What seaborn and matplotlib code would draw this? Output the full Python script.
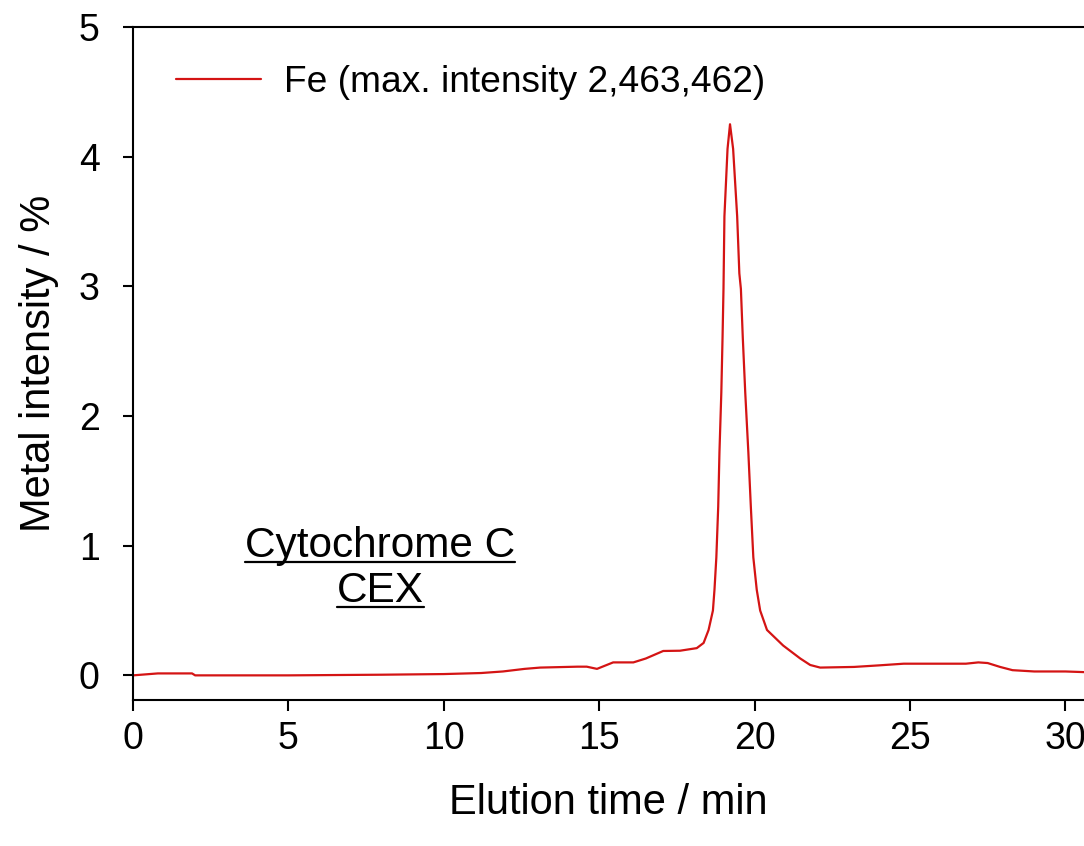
import numpy as np
import pandas as pd
import matplotlib
matplotlib.use("Agg")
import matplotlib.pyplot as plt
import seaborn as sns
from matplotlib.lines import Line2D

# ---- data ----
time_min = [0.0, 0.8, 1.9, 2.0, 5.0, 8.0, 10.0, 11.2, 11.9, 12.6, 13.1, 14.3, 14.6,
            14.93, 15.45, 16.1, 16.5, 17.06, 17.6, 18.14, 18.36, 18.52, 18.66,
            18.71, 18.77, 18.83, 18.87, 18.93, 18.97, 19.00, 19.03, 19.13, 19.21,
            19.31, 19.44, 19.51, 19.56, 19.62, 19.70, 19.80, 19.88, 19.96, 20.07,
            20.18, 20.40, 20.92, 21.47, 21.79, 22.11, 23.2, 24.0, 24.8, 26.8,
            27.2, 27.5, 27.9, 28.3, 29.0, 30.0, 30.6]
fe_intensity = [0.0, 0.015, 0.015, 0.0, 0.0, 0.005, 0.01, 0.018, 0.03, 0.05, 0.06,
                0.067, 0.067, 0.05, 0.10, 0.10, 0.13, 0.188, 0.19, 0.21, 0.25,
                0.35, 0.50, 0.66, 0.91, 1.30, 1.72, 2.18, 2.61, 2.98, 3.54, 4.06,
                4.25, 4.06, 3.54, 3.10, 2.98, 2.61, 2.18, 1.72, 1.30, 0.91, 0.66,
                0.50, 0.35, 0.23, 0.13, 0.08, 0.06, 0.065, 0.077, 0.09, 0.09, 0.10,
                0.095, 0.065, 0.04, 0.03, 0.03, 0.025]
series_label = "Fe (max. intensity 2,463,462)"
x_ticks = [0, 5, 10, 15, 20, 25, 30]
y_ticks = [0, 1, 2, 3, 4, 5]
annotation_lines = ["Cytochrome C", "CEX"]

df = pd.DataFrame({"time": time_min, "intensity": fe_intensity, "series": series_label})

sns.set_theme(style="ticks")
plt.rcParams["font.family"] = ["Liberation Sans", "DejaVu Sans"]
plt.rcParams["text.color"] = "black"

fig = plt.figure(figsize=(10.84, 8.46), dpi=100)
ax = fig.add_axes([133 / 1084, 1 - 700 / 846, 1 - 133 / 1084, (700 - 27) / 846])

sns.lineplot(data=df, x="time", y="intensity", hue="series", palette=["#d41414"],
             linewidth=1.6, ax=ax, estimator=None, sort=True)

ax.set_xlim(0, 30.6)
ax.set_ylim(-0.19, 5)
ax.set_xticks(x_ticks)
ax.set_yticks(y_ticks)

for side in ["left", "bottom", "top"]:
    ax.spines[side].set_linewidth(1.5)
    ax.spines[side].set_color("black")
ax.spines["right"].set_visible(False)

ax.tick_params(axis="x", direction="out", length=8, width=1.5, pad=7,
               labelsize=27, colors="black")
ax.tick_params(axis="y", direction="out", length=7, width=1.5, pad=17,
               labelsize=27, colors="black")

ax.set_xlabel("Elution time / min", fontsize=30, labelpad=19, color="black")
ax.set_ylabel("Metal intensity / %", fontsize=30, labelpad=14, color="black")

leg = ax.legend(loc="center left", bbox_to_anchor=((176 - 133) / 951, (700 - 82) / 673),
                frameon=False, fontsize=26.7, handlelength=2.3, handletextpad=0.6,
                borderpad=0, borderaxespad=0)
for h in leg.get_lines():
    h.set_linewidth(1.6)
for t in leg.get_texts():
    t.set_color("black")

# annotation with underline
texts = []
ann_y = [0.912, 0.564]
for s, yv in zip(annotation_lines, ann_y):
    t = ax.text(7.95, yv, s, ha="center", va="baseline", fontsize=30.5, color="black")
    texts.append(t)

fig.canvas.draw()
renderer = fig.canvas.get_renderer()
for t in texts:
    bb = t.get_window_extent(renderer=renderer)
    _, base_y = ax.transData.transform((t.get_position()[0], t.get_position()[1]))
    uy = base_y - 5
    x0, x1 = bb.x0, bb.x1
    inv = fig.transFigure.inverted()
    (fx0, fy), (fx1, _) = inv.transform([(x0, uy), (x1, uy)])
    fig.add_artist(Line2D([fx0, fx1], [fy, fy], color="black", linewidth=1.6))

fig.savefig("out.png", dpi=100)
